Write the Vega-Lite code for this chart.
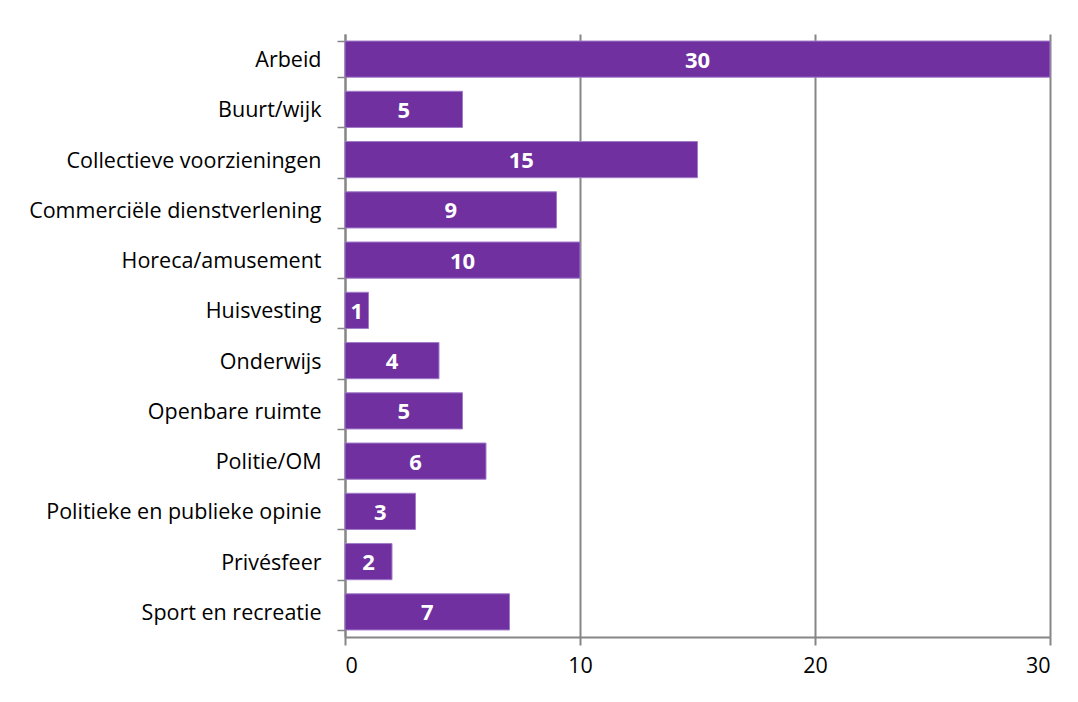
{
  "$schema": "https://vega.github.io/schema/vega-lite/v6.json",
  "autosize": {"type": "none"},
  "width": 705,
  "height": 603,
  "padding": {"left": 345, "top": 34, "right": 28, "bottom": 65},
  "background": "white",
  "config": {"view": {"stroke": null}, "font": "Open Sans"},
  "data": {"values": [
    {"cat": "Arbeid", "n": 30},
    {"cat": "Buurt/wijk", "n": 5},
    {"cat": "Collectieve voorzieningen", "n": 15},
    {"cat": "Commerciële dienstverlening", "n": 9},
    {"cat": "Horeca/amusement", "n": 10},
    {"cat": "Huisvesting", "n": 1},
    {"cat": "Onderwijs", "n": 4},
    {"cat": "Openbare ruimte", "n": 5},
    {"cat": "Politie/OM", "n": 6},
    {"cat": "Politieke en publieke opinie", "n": 3},
    {"cat": "Privésfeer", "n": 2},
    {"cat": "Sport en recreatie", "n": 7}
  ]},
  "encoding": {
    "y": {"field": "cat", "type": "nominal", "sort": null,
      "scale": {"paddingInner": 0.28, "paddingOuter": 0.14},
      "axis": {"title": null, "tickBand": "extent", "tickSize": 8, "tickColor": "#868686", "tickWidth": 1.5,
        "domainColor": "#868686", "domainWidth": 2, "labelFontSize": 21.5, "labelColor": "#000000",
        "labelPadding": 16, "labelFont": "Open Sans", "labelLimit": 340, "labelOffset": 1.5}},
    "x": {"field": "n", "type": "quantitative",
      "scale": {"domain": [0, 30], "nice": false},
      "axis": {"title": null, "values": [0, 10, 20, 30], "tickSize": 8, "tickColor": "#868686", "tickWidth": 2,
        "domainColor": "#868686", "domainWidth": 2, "grid": true, "gridColor": "#868686", "gridWidth": 2,
        "labelFontSize": 21.5, "labelColor": "#000000", "labelPadding": 10, "labelFont": "Open Sans"}}
  },
  "layer": [
    {"mark": {"type": "bar", "color": "#7030A0", "stroke": "#a07cc8", "strokeWidth": 1}},
    {"transform": [{"calculate": "datum.n / 2", "as": "mid"}],
     "mark": {"type": "text", "color": "white", "fontWeight": "bold", "fontSize": 22, "font": "Open Sans", "align": "center", "baseline": "middle", "dy": 1.5},
     "encoding": {"x": {"field": "mid", "type": "quantitative"}, "text": {"field": "n", "type": "quantitative"}}}
  ]
}
